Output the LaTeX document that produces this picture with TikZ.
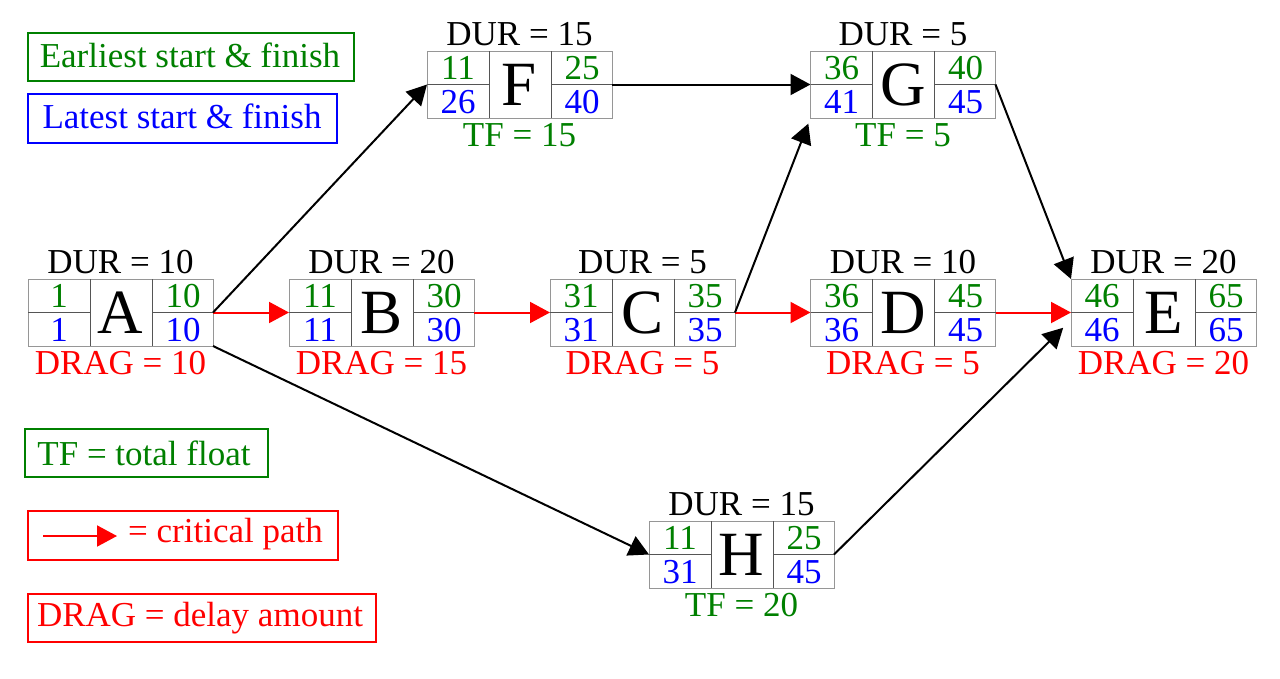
\documentclass[tikz,border=0pt]{standalone}
\usepackage{fontspec}
\setmainfont{Liberation Serif}
\usetikzlibrary{arrows.meta,calc}
\definecolor{tgreen}{RGB}{0,128,0}
\definecolor{tblue}{RGB}{0,0,255}
\definecolor{tred}{RGB}{255,0,0}
\definecolor{boxgray}{RGB}{150,150,150}
\definecolor{linegray}{RGB}{85,85,85}
\tikzset{
  txt/.style={font=\fontsize{35}{42}\selectfont, inner sep=0pt, anchor=base},
  bigletter/.style={font=\fontsize{63}{70}\selectfont, inner sep=0pt, anchor=base},
  actbox/.style={draw=boxgray, line width=1pt, minimum width=185pt, minimum height=67pt, inner sep=0pt, outer sep=0pt, fill=white},
  innerline/.style={draw=linegray, line width=1pt},
  arr/.style={-{Triangle[length=20pt,width=21pt]}, line width=2pt, black},
  critarr/.style={-{Triangle[length=20pt,width=21pt]}, line width=2pt, tred},
  legbox/.style={draw, line width=2.5pt, inner sep=0pt, outer sep=0pt},
}
\newcommand\actnode[9]{%
  \node[actbox] (#1) at (#2) {};
  \draw[innerline] ($(#1.north west)+(62,0)$) -- ($(#1.south west)+(62,0)$);
  \draw[innerline] ($(#1.north west)+(124,0)$) -- ($(#1.south west)+(124,0)$);
  \draw[innerline] (#1.west) -- ($(#1.west)+(62,0)$);
  \draw[innerline] ($(#1.east)+(-61,0)$) -- (#1.east);
  \node[txt, tgreen] (#1-es) at ($(#1.north west)+(31,28)$) {#4};
  \node[txt, tgreen] (#1-ef) at ($(#1.north west)+(155,28)$) {#5};
  \node[txt, tblue] (#1-ls) at ($(#1.north west)+(31,62)$) {#6};
  \node[txt, tblue] (#1-lf) at ($(#1.north west)+(155,62)$) {#7};
  \node[bigletter] (#1-name) at ($(#1.north)+(0,54)$) {#3};
  \node[txt] (#1-dur) at ($(#1.north)+(0,-6)$) {#8};
  \node[txt] (#1-low) at ($(#1.north)+(0,95.5)$) {#9};
}
\begin{document}
\begin{tikzpicture}[x=1pt,y=-1pt]
\useasboundingbox[fill=white] (0,0) rectangle (1280,678);

% activities
\actnode{A}{120.5,312.5}{A}{1}{10}{1}{10}{DUR = 10}{\color{tred}DRAG = 10}
\actnode{B}{381.5,312.5}{B}{11}{30}{11}{30}{DUR = 20}{\color{tred}DRAG = 15}
\actnode{C}{642.5,312.5}{C}{31}{35}{31}{35}{DUR = 5}{\color{tred}DRAG = 5}
\actnode{D}{903,312.5}{D}{36}{45}{36}{45}{DUR = 10}{\color{tred}DRAG = 5}
\actnode{E}{1163.5,312.5}{E}{46}{65}{46}{65}{DUR = 20}{\color{tred}DRAG = 20}
\actnode{F}{519.5,84.5}{F}{11}{25}{26}{40}{DUR = 15}{\color{tgreen}TF = 15}
\actnode{G}{903,84.5}{G}{36}{40}{41}{45}{DUR = 5}{\color{tgreen}TF = 5}
\actnode{H}{741.5,554.5}{H}{11}{25}{31}{45}{DUR = 15}{\color{tgreen}TF = 20}

% connectors
\draw[critarr] (A.east) -- (B.west);
\draw[critarr] (B.east) -- (C.west);
\draw[critarr] (C.east) -- (D.west);
\draw[critarr] (D.east) -- (E.west);
\draw[arr] (A.east) -- (F.west);
\draw[arr] (A.south east) -- (H.west);
\draw[arr] (F.east) -- (G.west);
\draw[arr, shorten >=6pt] (C.east) -- (G.south west);
\draw[arr] (G.east) -- (E.north west);
\draw[arr, shorten >=11pt] (H.east) -- ($(E.west)+(0,7.5)$);

% legend
\node[legbox, draw=tgreen, minimum width=326pt, minimum height=48pt] (lgE) at (191,57) {};
\node[txt, tgreen] (lgEt) at (190,67.7) {Earliest start \& finish};
\node[legbox, draw=tblue, minimum width=309pt, minimum height=49pt] (lgL) at (182.5,118.5) {};
\node[txt, tblue] (lgLt) at (182,128.3) {Latest start \& finish};
\node[legbox, draw=tgreen, minimum width=243pt, minimum height=48pt] (lgT) at (146.5,453) {};
\node[txt, tgreen] (lgTt) at (144,465) {TF = total float};
\node[legbox, draw=tred, minimum width=310pt, minimum height=49pt] (lgC) at (183,535.5) {};
\coordinate (cpa) at (43,536);
\coordinate (cpb) at (117,536);
\draw[critarr] (cpa) -- (cpb);
\node[txt, tred, anchor=base west] (lgCt) at (128,542.7) {= critical path};
\node[legbox, draw=tred, minimum width=348pt, minimum height=48pt] (lgD) at (202,618) {};
\node[txt, tred] (lgDt) at (200,626) {DRAG = delay amount};
\end{tikzpicture}
\end{document}
